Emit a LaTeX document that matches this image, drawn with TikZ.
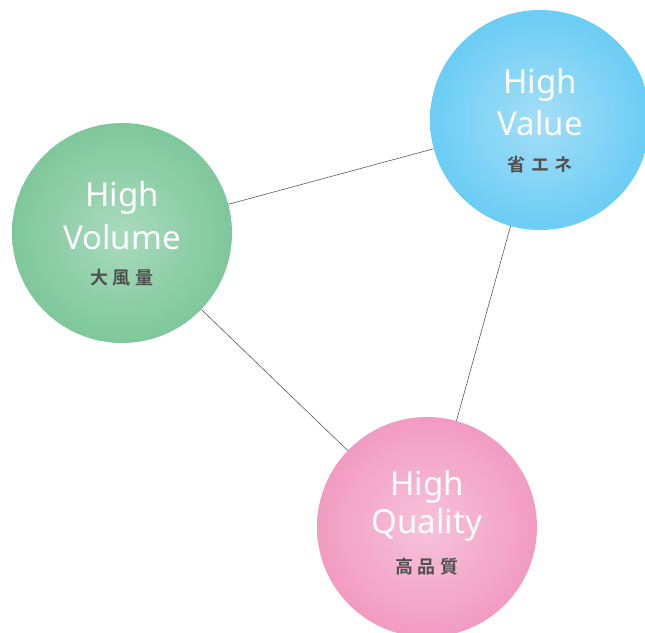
\documentclass[tikz,border=0pt]{standalone}
\usepackage{fontspec}
\setmainfont{Noto Sans}
\newfontfamily\jpfont{Noto Sans CJK JP}[BoldFont={* Bold}]
\definecolor{volgreen}{HTML}{7EC79B}
\definecolor{volgreenin}{HTML}{A9DBBD}
\definecolor{valblue}{HTML}{6BCDF5}
\definecolor{valbluein}{HTML}{A4DEF7}
\definecolor{qualpink}{HTML}{F29BC2}
\definecolor{qualpinkin}{HTML}{F7C3DA}
\definecolor{jpgray}{HTML}{505050}

\begin{document}
\begin{tikzpicture}[x=1pt, y=-1pt,
  ball/.style={circle, minimum size=220pt, inner sep=0pt},
  entitle/.style={text=white, font=\fontsize{33}{33}\selectfont},
  jptitle/.style={text=jpgray, font=\jpfont\bfseries\fontsize{18}{18}\selectfont},
  link/.style={draw=black!65, line width=0.6pt}]
% canvas
\useasboundingbox (0,0) rectangle (645,632);
\clip (0,0) rectangle (645,632);

% circles
\node[ball, inner color=volgreenin, outer color=volgreen] (vol) at (122,233) {};
\node[ball, inner color=valbluein, outer color=valblue] (val) at (540,120) {};
\node[ball, inner color=qualpinkin, outer color=qualpink] (qual) at (427,527) {};

% connectors
\draw[link] (vol) -- (val);
\draw[link] (vol) -- (qual);
\draw[link] (val) -- (qual);

% labels
\node[entitle] (volhigh) at (122,198) {High};
\node[entitle] (volname) at (122,237) {Volume};
\node[jptitle] (voljp) at (122,278) {大\hspace{5pt}風\hspace{5pt}量};

\node[entitle] (valhigh) at (540,85) {High};
\node[entitle] (valname) at (540,123) {Value};
\node[jptitle] (valjp) at (540,165) {省\hspace{6pt}エ\hspace{6pt}ネ};

\node[entitle] (qualhigh) at (427,487) {High};
\node[entitle] (qualname) at (427,525) {Quality};
\node[jptitle] (qualjp) at (427,567) {高\hspace{5pt}品\hspace{5pt}質};
\end{tikzpicture}
\end{document}
